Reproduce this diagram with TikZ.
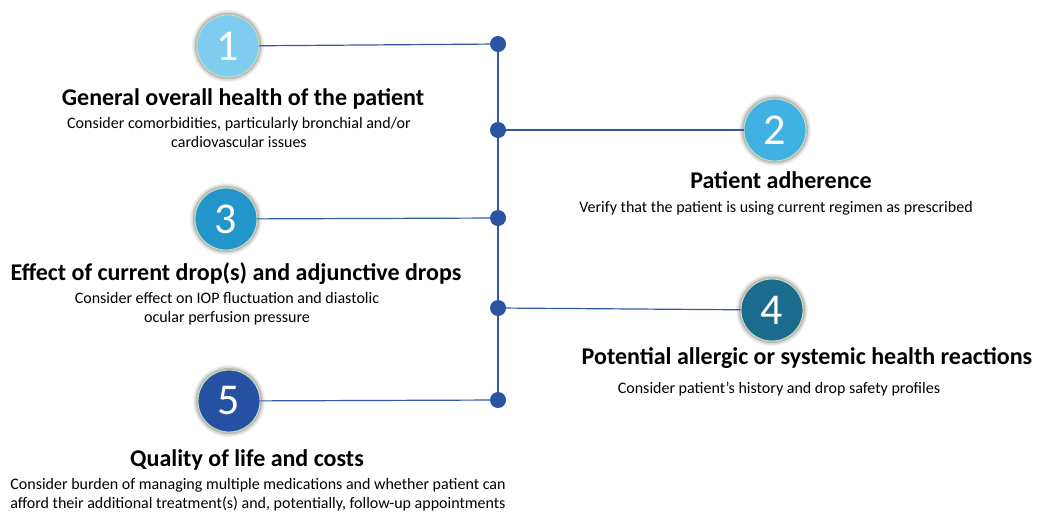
\documentclass[tikz,border=0pt]{standalone}
\usepackage{fontspec}
\setmainfont{Carlito}
\definecolor{cone}{HTML}{7ECCEF}
\definecolor{ctwo}{HTML}{41B1E4}
\definecolor{cthree}{HTML}{2296CA}
\definecolor{cfour}{HTML}{1A6B8E}
\definecolor{cfive}{HTML}{2551A3}
\definecolor{dotblue}{HTML}{2A53A2}
\definecolor{linkblue}{HTML}{3458A6}
\definecolor{rimgreen}{HTML}{C9E2B5}
\tikzset{
  badge/.style={circle, minimum size=62pt, inner sep=0pt, draw=rimgreen, line width=0.9pt,
    text=white, font=\fontsize{44}{44}\selectfont},
  hub/.style={circle, fill=dotblue, minimum size=16pt, inner sep=0pt},
  link/.style={draw=linkblue, line width=1.2pt},
  headline/.style={font=\bfseries\fontsize{24}{28}\selectfont, inner sep=0pt, anchor=base},
  note/.style={font=\fontsize{16}{19}\selectfont, inner sep=0pt, align=center, anchor=base}
}
\newcommand{\halo}[1]{%
  \fill[gray!12] #1 circle (36pt);
  \fill[gray!30] #1 circle (34.5pt);
  \fill[gray!55] #1 circle (33pt);
}
\begin{document}
\begin{tikzpicture}[x=1pt,y=1pt]
\useasboundingbox (0,0) rectangle (1040,-512);
% soft grey rims behind the numbered badges
\halo{(228,-46)}
\halo{(775,-130)}
\halo{(226,-219)}
\halo{(772,-310)}
\halo{(229,-401)}
% numbered badges
\node[badge, fill=cone]   (c1) at (228,-46)  {1};
\node[badge, fill=ctwo]   (c2) at (775,-130) {2};
\node[badge, fill=cthree] (c3) at (226,-219) {3};
\node[badge, fill=cfour]  (c4) at (772,-310) {4};
\node[badge, fill=cfive]  (c5) at (229,-401) {5};
% hubs on the spine
\node[hub] (d1) at (498,-44)  {};
\node[hub] (d2) at (498,-130) {};
\node[hub] (d3) at (498,-218) {};
\node[hub] (d4) at (498,-308) {};
\node[hub] (d5) at (498,-400) {};
% spine and branches
\draw[link] (d1) -- (d2);
\draw[link] (d2) -- (d3);
\draw[link] (d3) -- (d4);
\draw[link] (d4) -- (d5);
\draw[link] (c1) -- (d1);
\draw[link] (d2) -- (c2);
\draw[link] (c3) -- (d3);
\draw[link] (d4) -- (c4);
\draw[link] (c5) -- (d5);
% labels (multi-line notes are placed by the baseline of their last line)
\node[headline] (t1) at (243,-105) {General overall health of the patient};
\node[note] (n1) at (239,-147) {Consider comorbidities, particularly bronchial and/or\\cardiovascular issues};
\node[headline] (t2) at (781,-188) {Patient adherence};
\node[note] (n2) at (776,-212) {Verify that the patient is using current regimen as prescribed};
\node[headline] (t3) at (236,-280) {Effect of current drop(s) and adjunctive drops};
\node[note] (n3) at (227,-322) {Consider effect on IOP fluctuation and diastolic\\ocular perfusion pressure};
\node[headline] (t4) at (807,-364) {Potential allergic or systemic health reactions};
\node[note] (n4) at (779,-393) {Consider patient’s history and drop safety profiles};
\node[headline] (t5) at (247,-466) {Quality of life and costs};
\node[note] (n5) at (258,-508) {Consider burden of managing multiple medications and whether patient can\\afford their additional treatment(s) and, potentially, follow-up appointments};
\end{tikzpicture}
\end{document}
